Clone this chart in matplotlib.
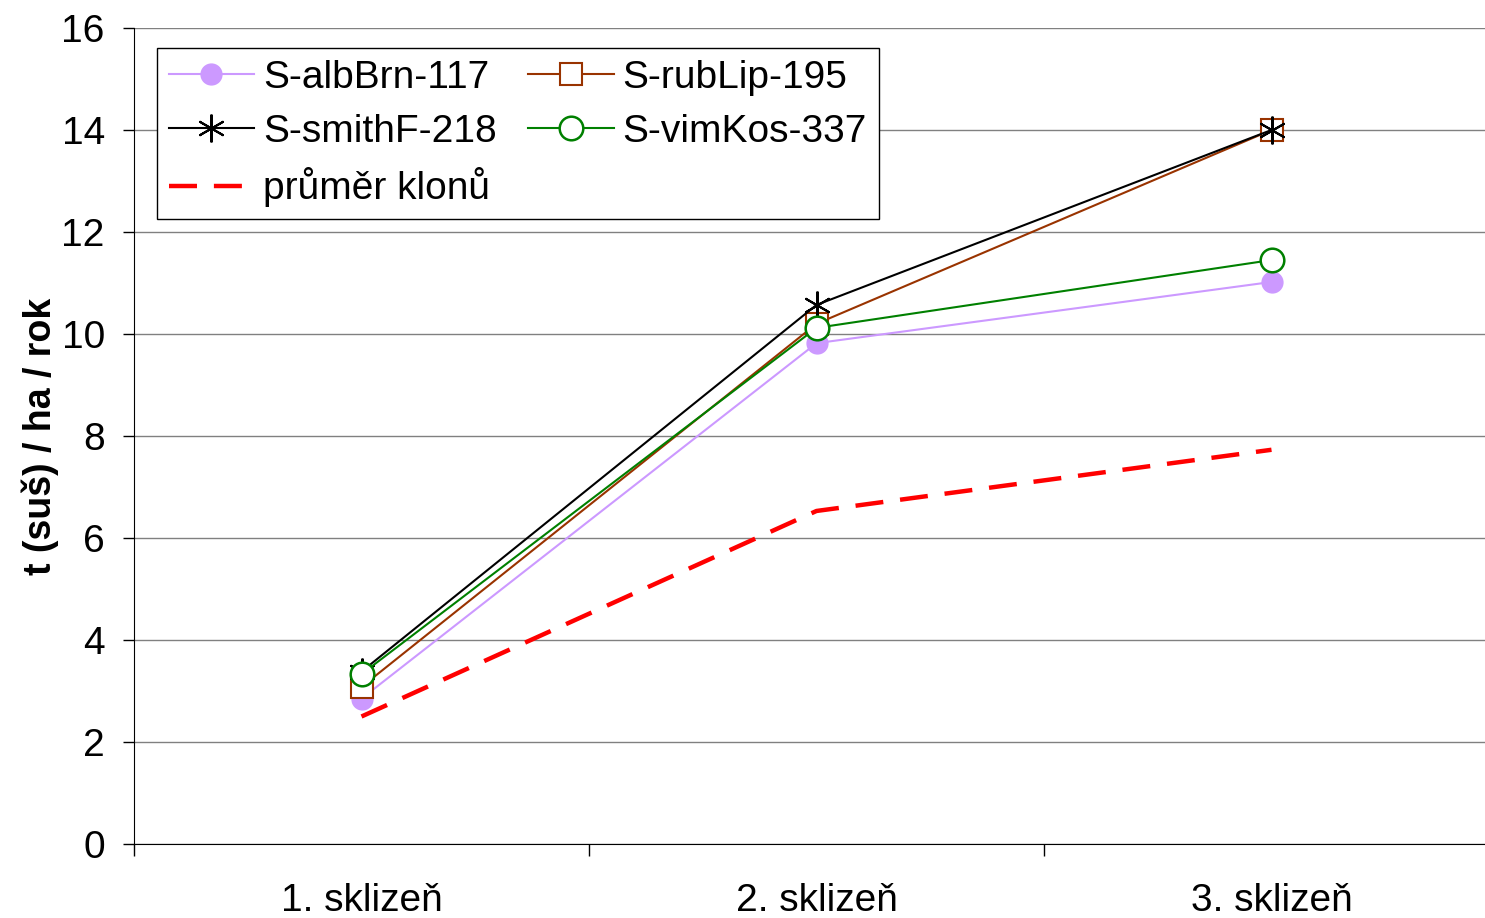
import matplotlib
matplotlib.use("Agg")
import matplotlib.pyplot as plt

plt.rcParams['font.family'] = ['Liberation Sans', 'DejaVu Sans']

categories = ["1. sklizeň", "2. sklizeň", "3. sklizeň"]
albBrn = [2.85, 9.82, 11.02]
rubLip = [3.08, 10.2, 14.0]
smithF = [3.38, 10.57, 14.0]
vimKos = [3.33, 10.12, 11.45]
prumer = [2.5, 6.53, 7.73]

W, H = 1485, 918
fig = plt.figure(figsize=(W/100, H/100), dpi=100)
ax = fig.add_axes([134/W, 1 - 844/H, 1365/W, (844-28)/H])

x = list(range(len(categories)))
ax.plot(x, albBrn, color='#cc99ff', lw=1.5, marker='o', ms=15, mfc='#cc99ff', mec='#cc99ff', label='S-albBrn-117', zorder=3)
ax.plot(x, smithF, color='black', lw=1.5, marker=(6, 2, 0), ms=20, mew=1.5, label='S-smithF-218', zorder=4)
ax.plot(x, prumer, color='#ff0000', lw=3.2, ls=(0, (6.3, 3.8)), label='průměr klonů', zorder=2)
ax.plot(x, rubLip, color='#993300', lw=1.5, marker='s', ms=16, mfc='white', mec='#993300', mew=1.5, label='S-rubLip-195', zorder=3)
ax.plot(x, vimKos, color='#008000', lw=1.5, marker='o', ms=17, mfc='white', mec='#008000', mew=1.8, label='S-vimKos-337', zorder=5)

ax.set_xlim(-0.5, 2.5)
ax.set_ylim(0, 16)
ax.set_yticks(range(0, 17, 2))
ax.grid(axis='y', color='#808080', lw=1)
ax.set_axisbelow(True)
ax.set_xticks([-0.5, 0.5, 1.5, 2.5])
ax.set_xticklabels([])
ax.set_xticks(x, minor=True)
ax.set_xticklabels(categories, minor=True)
ax.tick_params(axis='x', which='minor', length=0, labelsize=28, pad=28)
ax.tick_params(axis='x', which='major', length=8.5, direction='out', width=1)
ax.tick_params(axis='y', length=8, direction='out', labelsize=28, width=1, pad=13)
for s in ['top', 'right']:
    ax.spines[s].set_visible(False)
ax.spines['left'].set_color('black')
ax.spines['bottom'].set_color('black')
ax.set_ylabel('t (suš) / ha / rok', fontsize=27, fontweight='bold', labelpad=2)

leg = ax.legend(ncol=2, loc='upper left', bbox_to_anchor=(23/1365, 1 - 20/816), fontsize=28,
                frameon=True, fancybox=False, edgecolor='black', framealpha=1,
                handlelength=2.2, columnspacing=0.8, labelspacing=0.46, borderpad=0.3,
                handletextpad=0.23, borderaxespad=0)
leg.get_frame().set_linewidth(1)

fig.savefig('out.png', dpi=100)
